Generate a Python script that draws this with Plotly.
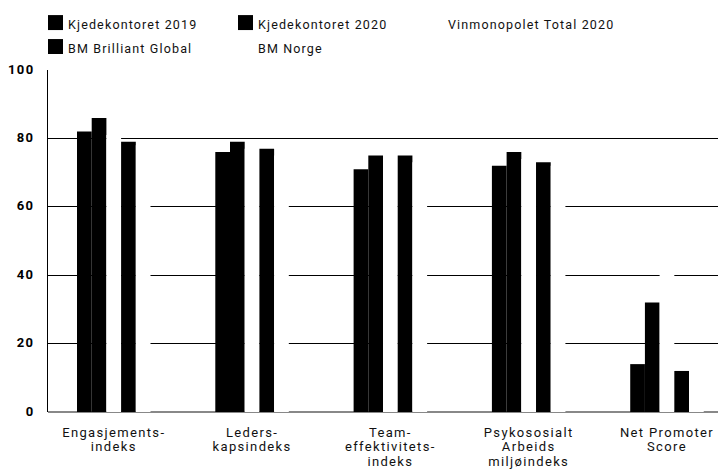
import plotly.graph_objects as go

categories = [["Engasjements-", "indeks"], ["Leders-", "kapsindeks"], ["Team-", "effektivitets-", "indeks"],
              ["Psykososialt", "Arbeids", "miljøindeks"], ["Net Promoter", "Score"]]
kjede_2019 = [82, 76, 71, 72, 14]
kjede_2020 = [86, 79, 75, 76, 32]
vinmonopolet_2020 = [81, 77, 74, 74, 45]
bm_brilliant = [79, 77, 75, 73, 12]
bm_norge = [78, 75, 73, 72, 8]
y_ticks = [0, 20, 40, 60, 80, 100]

series = [
    ("Kjedekontoret 2019", kjede_2019, "#000000"),
    ("Kjedekontoret 2020", kjede_2020, "#000000"),
    ("Vinmonopolet Total 2020", vinmonopolet_2020, "#ffffff"),
    ("BM Brilliant Global", bm_brilliant, "#000000"),
    ("BM Norge", bm_norge, "#ffffff"),
]

FONT = "Roboto"
OFF = 8  # page body margin of the html page
W, H = 726 - OFF, 471 - OFF
ML, MR, MT, MB = 48 - OFF, 0, 70 - OFF, 58.5
PW, PH = W - ML - MR, H - MT - MB


def spaced(s, size=13, ls=1.35):
    return '<span style="font-size:%spx;letter-spacing:%spx">%s</span>' % (size, ls, s)


fig = go.Figure()
for name, vals, col in series:
    fig.add_trace(go.Bar(
        name=name, x=list(range(len(categories))), y=vals,
        marker=dict(color=col, line=dict(width=0)), showlegend=False,
    ))


# custom legend (3 columns, 2 rows); positions in window pixels
def px_x(px):
    return (px - OFF - ML) / PW


def px_y(py):
    return (H - MB - (py - OFF)) / PH


shapes, annotations = [], []
for i, (name, vals, col) in enumerate(series):
    row, colno = divmod(i, 3)
    sx = 48 + 190 * colno
    sy = 15 + 24 * row
    shapes.append(dict(type="rect", xref="paper", yref="paper",
                       x0=px_x(sx), x1=px_x(sx + 15), y0=px_y(sy + 15), y1=px_y(sy),
                       fillcolor=col, line=dict(width=0), layer="above"))
    annotations.append(dict(text=spaced(name, 12.5, 1.15), xref="paper", yref="paper",
                            x=px_x(sx + 18), y=px_y(sy + 9.5),
                            xanchor="left", yanchor="middle", showarrow=False,
                            font=dict(family=FONT, size=12.5, color="#111111")))

fig.update_layout(
    width=W, height=H,
    margin=dict(l=ML, r=MR, t=MT, b=MB, autoexpand=False),
    paper_bgcolor="white", plot_bgcolor="white",
    barmode="group", bargap=0.4685, bargroupgap=0,
    font=dict(family=FONT, color="#000000"),
    showlegend=False,
    shapes=shapes, annotations=annotations,
    xaxis=dict(tickmode="array", tickvals=list(range(len(categories))),
               ticktext=["<br>".join(spaced(p) for p in c) for c in categories],
               range=[-0.4754, 4.4268], showgrid=False, zeroline=False, showline=False,
               tickfont=dict(family=FONT, size=11.5, color="#111111"), ticks="",
               ticklabelstandoff=12, automargin=False),
    yaxis=dict(range=[0, 100], tickvals=y_ticks,
               ticktext=[spaced(str(v), 13, 1.3) for v in y_ticks],
               showgrid=True, gridcolor="#000000", gridwidth=1,
               zeroline=True, zerolinecolor="#888888", zerolinewidth=1.5,
               showline=True, linecolor="#000000", linewidth=1,
               tickfont=dict(family=FONT, size=13, color="#000000", weight="bold"),
               ticks="", ticklabelstandoff=10, ticklabelshift=-1, automargin=False),
)
fig.write_html("out.html")
